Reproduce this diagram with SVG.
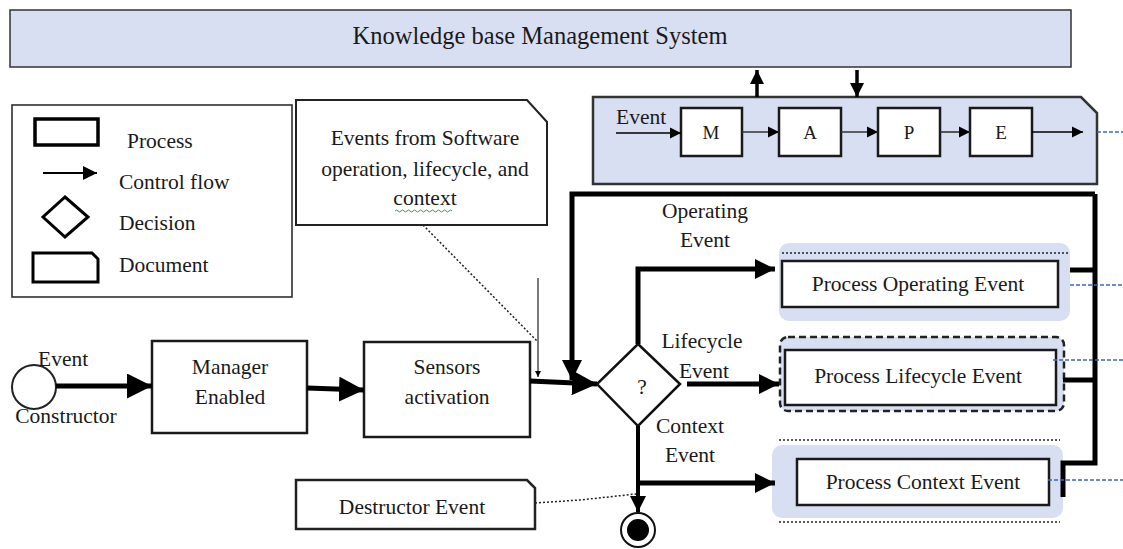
<svg xmlns="http://www.w3.org/2000/svg" width="1123" height="549" viewBox="0 0 1123 549">
<defs>
<style>
text{font-family:"Liberation Serif","Times New Roman",serif;font-size:21.5px;fill:#1a1a1a}
.c{text-anchor:middle}
.box{fill:#fff;stroke:#1a1a1a;stroke-width:2.5}
.thick{fill:none;stroke:#000;stroke-width:5}
.med{fill:none;stroke:#000;stroke-width:3}
.thin{fill:none;stroke:#222;stroke-width:1.5}
.blue{fill:#d9dff2}
.bdash{stroke:#3d66c4;stroke-width:1.3;stroke-dasharray:4 2;fill:none}
.dot{stroke:#222;stroke-width:1.5;stroke-dasharray:2 2;fill:none}
</style>
<marker id="ah" viewBox="0 0 10 10" refX="10" refY="5" markerWidth="4" markerHeight="4" markerUnits="strokeWidth" orient="auto"><path d="M0,0L10,5L0,10z" fill="#000"/></marker>
<marker id="ahs" viewBox="0 0 10 10" refX="10" refY="5" markerWidth="7" markerHeight="7" markerUnits="strokeWidth" orient="auto"><path d="M0,0L10,5L0,10z" fill="#000"/></marker>
<marker id="ahm" viewBox="0 0 10 10" refX="10" refY="5" markerWidth="5" markerHeight="5" markerUnits="strokeWidth" orient="auto"><path d="M0,0L10,5L0,10z" fill="#000"/></marker>
</defs>

<g id="kms">
<rect x="10" y="10" width="1061" height="57" fill="#d9dff2" stroke="#333" stroke-width="1.5"/>
<text class="c" x="540" y="44" style="font-size:24.5px">Knowledge base Management System</text>
</g>

<g id="legend">
<rect x="12" y="105" width="280" height="192" fill="#fff" stroke="#222" stroke-width="1.5"/>
<rect x="35" y="119" width="63" height="26" fill="#fff" stroke="#000" stroke-width="3.5"/>
<text x="127" y="148">Process</text>
<line x1="43" y1="173" x2="97" y2="173" stroke="#000" stroke-width="2" marker-end="url(#ahs)"/>
<text x="119" y="189">Control flow</text>
<path d="M65,197L88,217L65,237L43,217z" fill="#fff" stroke="#000" stroke-width="3"/>
<text x="119" y="230">Decision</text>
<path d="M33,253H92L98,259V282H33z" fill="#fff" stroke="#000" stroke-width="3"/>
<text x="119" y="272">Document</text>
</g>

<g id="events-doc">
<path d="M296,100H527L547,122V225H296z" fill="#fff" stroke="#222" stroke-width="2"/>
<text class="c" x="425" y="145">Events from Software</text>
<text class="c" x="425" y="176">operation, lifecycle, and</text>
<text class="c" x="425" y="205">context</text>
<path d="M395,211q1.5,-2 3,0t3,0t3,0t3,0t3,0t3,0t3,0t3,0t3,0t3,0t3,0t3,0t3,0t3,0t3,0t3,0t3,0t3,0t3,0" fill="none" stroke="#3a9a3a" stroke-width="1"/>
</g>

<g id="mape">
<path d="M593,97H1081L1097,113V184H593z" fill="#d9dff2" stroke="#333" stroke-width="2.5"/>
<text x="616" y="124">Event</text>
<rect class="box" x="681" y="108" width="61" height="48" stroke-width="3"/>
<text class="c" x="711" y="139" style="font-size:19px">M</text>
<rect class="box" x="779" y="108" width="62" height="48" stroke-width="3"/>
<text class="c" x="810" y="139" style="font-size:19px">A</text>
<rect class="box" x="878" y="108" width="62" height="48" stroke-width="3"/>
<text class="c" x="909" y="139" style="font-size:19px">P</text>
<rect class="box" x="970" y="108" width="62" height="48" stroke-width="3"/>
<text class="c" x="1001" y="139" style="font-size:19px">E</text>
</g>

<g id="start">
<circle cx="34" cy="387" r="22" fill="#fff" stroke="#222" stroke-width="2"/>
<text x="38" y="366">Event</text>
<text class="c" x="66" y="423">Constructor</text>
</g>

<g id="manager">
<rect class="box" x="152" y="341" width="155" height="92"/>
<text class="c" x="230" y="374">Manager</text>
<text class="c" x="230" y="404">Enabled</text>
</g>

<g id="sensors">
<rect class="box" x="364" y="342" width="166" height="95"/>
<text class="c" x="447" y="374">Sensors</text>
<text class="c" x="447" y="404">activation</text>
</g>

<g id="decision">
<path d="M638,344L680,384L638,426L597,384z" fill="#fff" stroke="#111" stroke-width="2.5"/>
<text class="c" x="642" y="394">?</text>
</g>

<g id="proc-operating">
<rect x="779" y="243" width="291" height="78" rx="10" class="blue"/>
<line x1="782" y1="253" x2="1068" y2="253" class="dot"/>
<rect class="box" x="782" y="261" width="276" height="46"/>
<text class="c" x="918" y="291">Process Operating Event</text>
</g>

<g id="proc-lifecycle">
<rect x="780" y="337" width="284" height="74" rx="8" fill="#d9dff2" stroke="#222" stroke-width="2.5" stroke-dasharray="7 4"/>
<rect class="box" x="785" y="350" width="271" height="55"/>
<text class="c" x="918" y="383">Process Lifecycle  Event</text>
</g>

<g id="proc-context">
<line x1="779" y1="440" x2="1060" y2="440" class="dot"/>
<rect x="772" y="445" width="291" height="73" rx="10" class="blue"/>
<rect class="box" x="797" y="459" width="252" height="46"/>
<text class="c" x="923" y="489">Process Context  Event</text>
<line x1="779" y1="522" x2="1060" y2="522" class="dot"/>
</g>

<g id="destructor">
<path d="M296,480H527L535,488V529H296z" fill="#fff" stroke="#222" stroke-width="2.5"/>
<text class="c" x="412" y="514">Destructor Event</text>
</g>

<g id="end">
<circle cx="638" cy="530" r="17" fill="#fff" stroke="#111" stroke-width="2"/>
<circle cx="638" cy="530" r="11" fill="#000"/>
</g>

<g id="labels">
<text class="c" x="705" y="218">Operating</text>
<text class="c" x="705" y="247">Event</text>
<text class="c" x="702" y="348">Lifecycle</text>
<text class="c" x="704" y="378">Event</text>
<text class="c" x="690" y="433">Context</text>
<text class="c" x="690" y="462">Event</text>
</g>

<g id="connectors">
<line x1="757" y1="97" x2="757" y2="70" stroke="#000" stroke-width="3.5" marker-end="url(#ah)"/>
<line x1="857" y1="70" x2="857" y2="97" stroke="#000" stroke-width="3.5" marker-end="url(#ah)"/>
<line x1="616" y1="133" x2="681" y2="133" stroke="#000" stroke-width="1.6" marker-end="url(#ahs)"/>
<line x1="742" y1="132" x2="779" y2="132" stroke="#333" stroke-width="1.6" marker-end="url(#ahs)"/>
<line x1="841" y1="132" x2="878" y2="132" stroke="#333" stroke-width="1.6" marker-end="url(#ahs)"/>
<line x1="940" y1="132" x2="970" y2="132" stroke="#333" stroke-width="1.6" marker-end="url(#ahs)"/>
<line x1="1032" y1="132" x2="1083" y2="132" stroke="#000" stroke-width="1.6" marker-end="url(#ahs)"/>
<line x1="56" y1="386" x2="152" y2="386" stroke="#000" stroke-width="5" marker-end="url(#ahm)"/>
<line x1="307" y1="388" x2="364" y2="390" stroke="#000" stroke-width="5" marker-end="url(#ahm)"/>
<line x1="530" y1="381" x2="597" y2="384" stroke="#000" stroke-width="5" marker-end="url(#ahm)"/>
<line x1="538" y1="278" x2="538" y2="377" stroke="#333" stroke-width="1.3" marker-end="url(#ahm)"/>
<line x1="423" y1="225" x2="538" y2="342" class="dot" stroke-width="1.2"/>
<path d="M1095,194H572V380" class="thick" marker-end="url(#ah)"/>
<path d="M1095,194V463H1063V497" class="thick"/>
<line x1="1070" y1="270" x2="1095" y2="270" class="thick"/>
<line x1="1063" y1="380" x2="1095" y2="380" class="thick"/>
<path d="M638,344V269H775" class="thick" marker-end="url(#ah)"/>
<line x1="687" y1="384" x2="779" y2="384" class="thick" marker-end="url(#ah)"/>
<path d="M638,426V512" stroke="#000" stroke-width="4" fill="none" marker-end="url(#ah)"/>
<line x1="638" y1="483" x2="775" y2="483" class="thick" marker-end="url(#ah)"/>
<path d="M535,503L580,500L636,494" class="dot" stroke-width="1.3"/>
<line x1="1097" y1="132" x2="1123" y2="132" class="bdash"/>
<line x1="1070" y1="285" x2="1123" y2="285" class="bdash"/>
<line x1="1053" y1="360" x2="1123" y2="360" class="bdash"/>
<line x1="1048" y1="480" x2="1123" y2="480" class="bdash"/>
</g>
</svg>
